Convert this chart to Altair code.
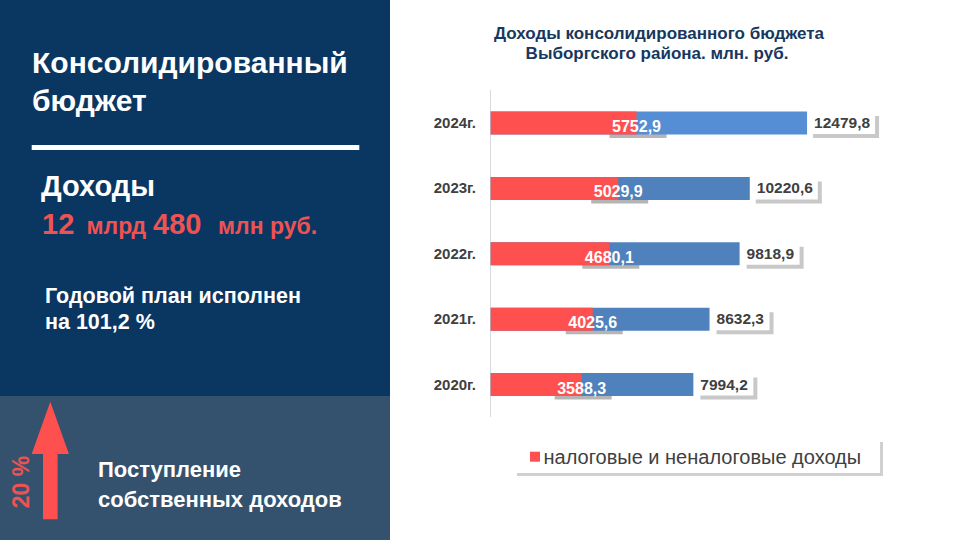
import itertools
import altair as alt
import pandas as pd

# ---------------- data ----------------
years = ["2020г.", "2021г.", "2022г.", "2023г.", "2024г."]
totals = [7994.2, 8632.3, 9818.9, 10220.6, 12479.8]
taxes = [3588.3, 4025.6, 4680.1, 5029.9, 5752.9]
series_name = "налоговые и неналоговые доходы"
title_lines = ["Доходы консолидированного бюджета", "Выборгского района. млн. руб."]


def fmt(v):
    return f"{v:.1f}".replace(".", ",")


df = pd.DataFrame({
    "year": years,
    "total": totals,
    "tax": taxes,
    "total_label": [fmt(v) for v in totals],
    "tax_label": [fmt(v) for v in taxes],
})
df_last = df[df["year"] == years[-1]].reset_index(drop=True)
df_rest = df[df["year"] != years[-1]].reset_index(drop=True)
df_long = df[df["total_label"].str.len() == 7].reset_index(drop=True)
df_short = df[df["total_label"].str.len() == 6].reset_index(drop=True)

# ---------------- styles ----------------
FONT = "Liberation Sans"
NAVY = "#0A3762"
SLATE = "#34526E"
RED = "#FF5050"
TXT_RED = "#F05252"
BLUE = "#4F81BD"
BLUE_LIGHT = "#558ED5"
GREY_TXT = "#404040"
TITLE_C = "#17375E"

_ids = itertools.count(1)


def solo():
    # a one-row dataset of its own for each decorative layer
    return alt.Data(values=[{"k": next(_ids)}])


def box(x1, x2, y1, y2, color):
    return alt.Chart(solo()).mark_rect(color=color).encode(
        x=alt.value(x1), x2=alt.value(x2), y=alt.value(y1), y2=alt.value(y2))


def label(text, x, y, size, color, weight="bold", align="left", baseline="alphabetic"):
    return alt.Chart(solo()).mark_text(
        text=text, font=FONT, fontSize=size, fontWeight=weight, color=color,
        align=align, baseline=baseline,
    ).encode(x=alt.value(x), y=alt.value(y))


# ---------------- left panel ----------------
arrow_path = ("M0,-1L0.317,-0.11L0.124,-0.11L0.124,1L-0.124,1"
              "L-0.124,-0.11L-0.317,-0.11Z")
arrow = alt.Chart(solo()).mark_point(
    shape=arrow_path, size=13830, filled=True, color=RED, opacity=1, strokeWidth=0
).encode(x=alt.value(50.3), y=alt.value(460.5))

pct = alt.Chart(solo()).mark_text(
    text="20 %", fontSize=23, angle=270, color=TXT_RED, font=FONT, fontWeight="bold"
).encode(x=alt.value(22), y=alt.value(482))

left = [
    box(0, 390, 0, 396, NAVY),
    box(0, 390, 396, 540, SLATE),
    label("Консолидированный", 32, 72.5, 30, "white"),
    label("бюджет", 32, 110.5, 30, "white"),
    box(31.7, 359.3, 145, 150, "white"),
    label("Доходы", 41, 196, 29, "white"),
    label("12", 42, 234, 29, TXT_RED),
    label("млрд", 86.5, 234, 23, TXT_RED),
    label("480", 153, 234, 29, TXT_RED),
    label("млн руб.", 218, 234, 23, TXT_RED),
    label("Годовой план исполнен", 45, 303.3, 21.5, "white"),
    label("на 101,2 %", 45, 329.3, 21.5, "white"),
    arrow,
    pct,
    label("Поступление", 98, 476.7, 22, "white"),
    label("собственных доходов", 98, 506.7, 22, "white"),
]

# ---------------- right chart ----------------
title_layers = [
    label(title_lines[0], 659, 39, 17, TITLE_C, align="center"),
    label(title_lines[1], 657, 59, 17, TITLE_C, align="center"),
]

xs = alt.Scale(domain=[0, 14000], range=[490.7, 845.6])
ys = alt.Scale(domain=years[::-1], range=[90.3, 417.3], paddingInner=0, paddingOuter=0)
Y = alt.Y("year:N", scale=ys, axis=None)

axis_rule = box(490, 491, 90, 417, "#D9D9D9")

year_labels = alt.Chart(df).mark_text(
    font=FONT, fontSize=15, fontWeight="bold", color=GREY_TXT,
    align="right", baseline="middle",
).encode(x=alt.value(476), y=Y, text="year:N")

blue_bars = alt.Chart(df_rest).mark_bar(size=23, color=BLUE).encode(
    x=alt.X("total:Q", scale=xs, axis=None), y=Y)
blue_bar_last = alt.Chart(df_last).mark_bar(size=23, color=BLUE_LIGHT).encode(
    x=alt.X("total:Q", axis=None), y=Y)

red_shadow = alt.Chart(df).mark_bar(
    size=18, color="#B5B5B5", xOffset=-27, x2Offset=30, yOffset=6
).encode(x=alt.X("tax:Q", axis=None), x2="tax:Q", y=Y)

red_bars = alt.Chart(df).mark_bar(size=23, color=RED).encode(
    x=alt.X("tax:Q", axis=None), y=Y)

red_text = alt.Chart(df).mark_text(
    font=FONT, fontSize=16, fontWeight="bold", color="white",
    align="center", baseline="middle", dy=4,
).encode(x=alt.X("tax:Q", axis=None), y=Y, text="tax_label:N")


def total_boxes(sub, x1, x2):
    c = alt.Chart(sub)
    s = c.mark_bar(size=22, color="#C8C8C8", xOffset=x1 + 3, x2Offset=x2 + 4,
                   yOffset=4).encode(x=alt.X("total:Q", axis=None), x2="total:Q", y=Y)
    b = c.mark_bar(size=22, color="white", xOffset=x1, x2Offset=x2).encode(
        x=alt.X("total:Q", axis=None), x2="total:Q", y=Y)
    return [s, b]


total_text = alt.Chart(df).mark_text(
    font=FONT, fontSize=15.5, fontWeight="bold", color=GREY_TXT,
    align="left", baseline="middle", dx=7,
).encode(x=alt.X("total:Q", axis=None), y=Y, text="total_label:N")

legend_layers = [
    box(517, 883, 442, 476, "#D0D0D0"),
    box(515, 880, 439, 473, "white"),
    box(530, 540, 451.7, 461.7, RED),
    label(series_name, 543.5, 463.5, 20, GREY_TXT, weight="normal"),
]

layers = (
    left + title_layers + [axis_rule] + legend_layers
    + [red_shadow, blue_bars, blue_bar_last, red_bars, red_text]
    + total_boxes(df_long, 3, 68) + total_boxes(df_short, 4, 60)
    + [total_text, year_labels]
)

chart = alt.layer(*layers).properties(
    width=960, height=540, padding=0,
    autosize=alt.AutoSizeParams(type="none"),
    background="white",
).configure_view(stroke=None)

chart.save("out.html", embed_options={"renderer": "svg", "actions": False})
